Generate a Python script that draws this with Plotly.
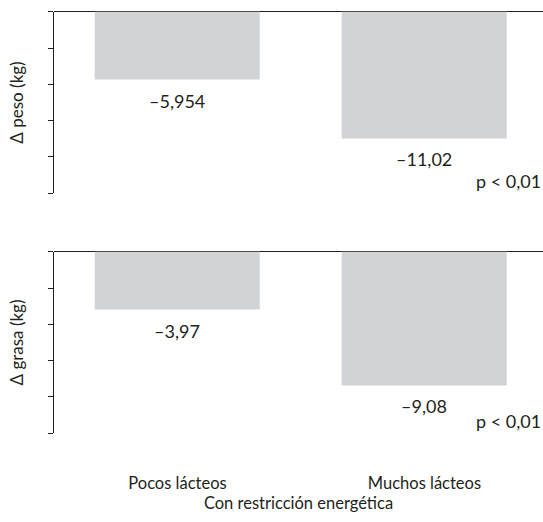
import plotly.graph_objects as go
from plotly.subplots import make_subplots

# Data
categories = ["Pocos lácteos", "Muchos lácteos"]
peso_values = [-5.954, -11.02]
grasa_values = [-3.97, -9.08]
peso_label = "Δ peso (kg)"
grasa_label = "Δ grasa (kg)"
x_title = "Con restricción energética"
p_text = "p < 0,01"

BAR_COLOR = "#d1d3d4"
INK = "#231f20"
FONT = "Lato, sans-serif"


def fmt(v):
    # Spanish decimal comma with en-dash minus sign
    s = f"{abs(v):g}".replace(".", ",")
    return ("–" if v < 0 else "") + s


fig = make_subplots(rows=2, cols=1, shared_xaxes=False)

panels = [
    (1, peso_values, peso_label, 15.8),
    (2, grasa_values, grasa_label, 12.33),
]

for row, vals, ylab, span in panels:
    fig.add_trace(
        go.Bar(x=categories, y=vals, marker_color=BAR_COLOR, width=0.668,
               showlegend=False, hoverinfo="skip"),
        row=row, col=1,
    )
    step = span / 5
    fig.update_yaxes(
        row=row, col=1,
        range=[-span - 1e-6, 0],
        tickvals=[-step * i for i in range(6)],
        showticklabels=False,
        ticks="outside", ticklen=5, tickwidth=1, tickcolor=INK,
        showline=True, linecolor=INK, linewidth=1,
        showgrid=False,
        zeroline=True, zerolinecolor=INK, zerolinewidth=1.2,
        title=dict(text=ylab, font=dict(size=17, color=INK), standoff=20),
    )
    # value labels under each bar end
    axis_suffix = "" if row == 1 else "2"
    for cat, v in zip(categories, vals):
        fig.add_annotation(
            x=cat, y=v, xref="x" + axis_suffix, yref="y" + axis_suffix,
            text=fmt(v), showarrow=False, yshift=-21,
            font=dict(size=18, color=INK, family=FONT),
        )
    fig.add_annotation(
        x=1, y=0.07, xref=f"x{axis_suffix} domain", yref=f"y{axis_suffix} domain",
        xanchor="right", yanchor="middle", text=p_text, showarrow=False,
        font=dict(size=18, color=INK, family=FONT),
    )

fig.update_xaxes(range=[-0.5, 1.48], showline=False, showgrid=False,
                 zeroline=False, ticks="")
fig.update_xaxes(row=1, col=1, showticklabels=False)
fig.update_xaxes(row=2, col=1, showticklabels=True, ticklabelstandoff=38,
                 tickfont=dict(size=16.5, color=INK),
                 title=dict(text=x_title, font=dict(size=16.5, color=INK), standoff=0))

fig.update_layout(
    width=543, height=522,
    margin=dict(l=54, r=0, t=0, b=0),
    paper_bgcolor="white", plot_bgcolor="white",
    font=dict(family=FONT, color=INK, size=18),
    yaxis=dict(domain=[0.6297, 0.9776]),
    yaxis2=dict(domain=[0.1699, 0.5178]),
    bargap=0,
)

fig.write_html("out.html")
